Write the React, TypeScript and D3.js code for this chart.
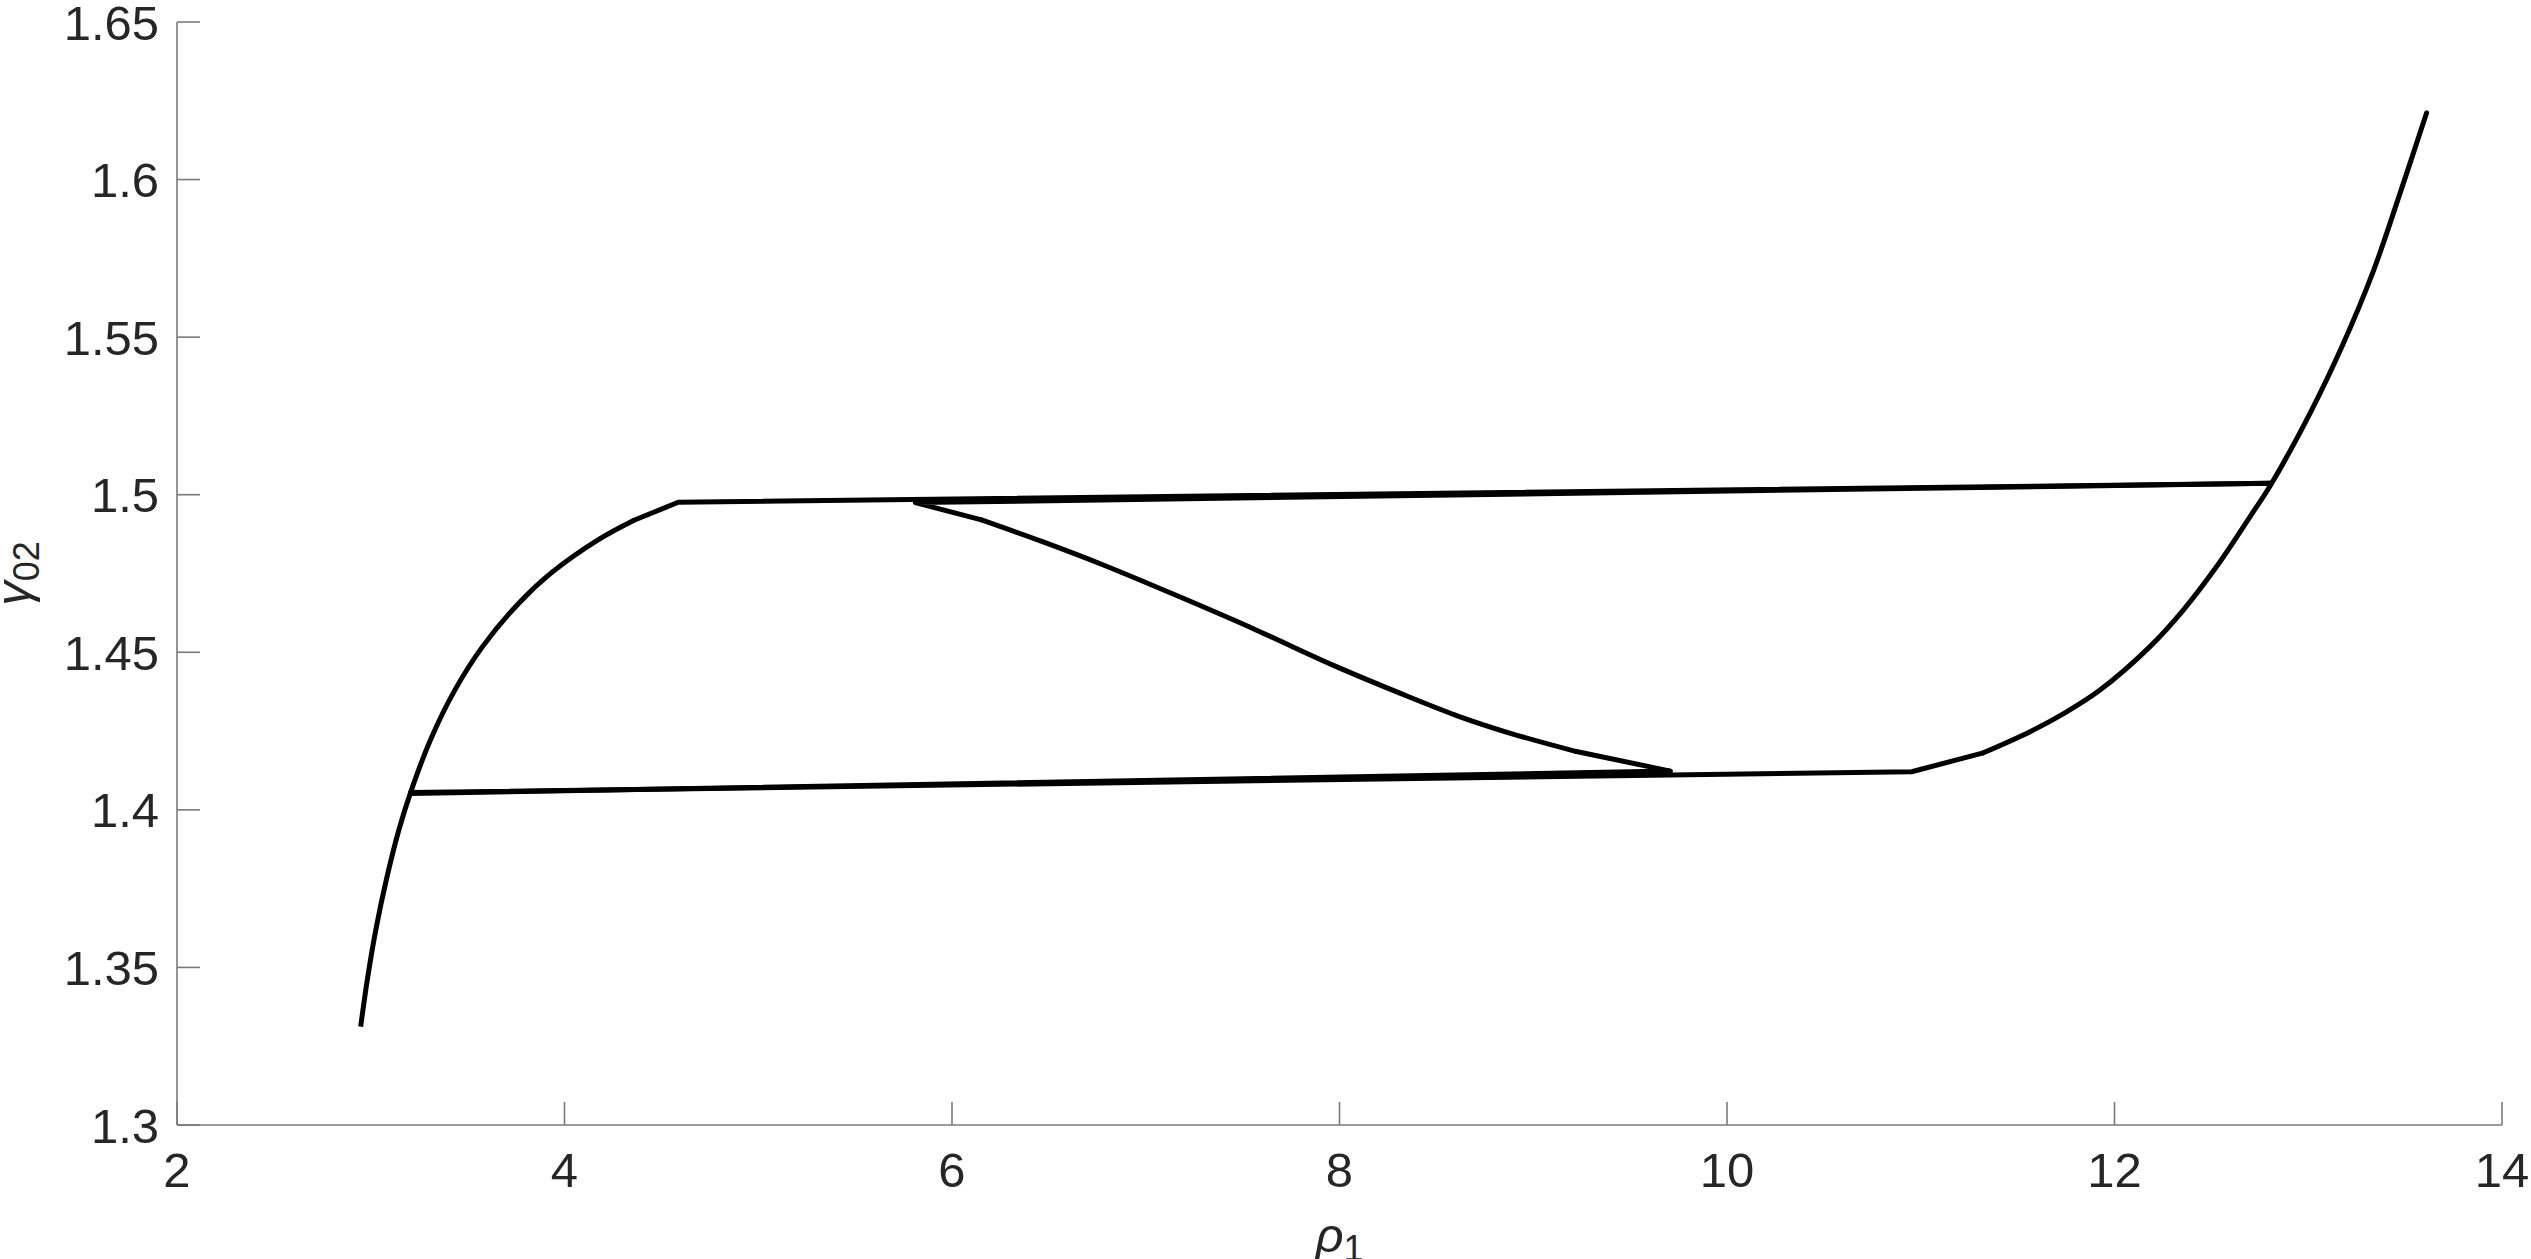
import React from "react";
import * as d3 from "d3";

const xTicks = [2, 4, 6, 8, 10, 12, 14];
const yTicks = [1.3, 1.35, 1.4, 1.45, 1.5, 1.55, 1.6, 1.65];
const yTickLabels = ["1.3", "1.35", "1.4", "1.45", "1.5", "1.55", "1.6", "1.65"];

// left branch (smooth part)
const leftRho = [2.948, 2.982, 3.026, 3.08, 3.145, 3.205, 3.308, 3.434, 3.577, 3.763, 3.93, 4.171, 4.359];
const leftGamma = [1.3312, 1.346, 1.3619, 1.3777, 1.3936, 1.4054, 1.4222, 1.438, 1.4518, 1.4655, 1.4751, 1.4856, 1.4919];

// upper plateau (straight)
const upperRho = [4.359, 4.587, 12.806];
const upperGamma = [1.4919, 1.4976, 1.5036];

// return line along the top to the start of the middle branch
const topReturnRho = [12.806, 5.811, 6.152];
const topReturnGamma = [1.5036, 1.4975, 1.492];

// unstable middle branch (smooth)
const middleRho = [6.152, 6.467, 6.781, 7.175, 7.569, 7.963, 8.357, 8.619, 8.882, 9.223];
const middleGamma = [1.492, 1.4851, 1.4777, 1.4676, 1.4571, 1.446, 1.4359, 1.4296, 1.4243, 1.4185];

// end of middle branch and return along the bottom
const bottomReturnRho = [9.223, 9.708, 3.205];
const bottomReturnGamma = [1.4185, 1.4123, 1.4052];

// lower plateau (straight)
const lowerRho = [3.205, 10.953, 11.323];
const lowerGamma = [1.4055, 1.4121, 1.4181];

// right branch (smooth)
const rightRho = [11.323, 11.564, 11.753, 11.925, 12.183, 12.355, 12.527, 12.699, 12.806, 13.009, 13.174, 13.332, 13.474, 13.611];
const rightGamma = [1.4181, 1.4248, 1.4311, 1.438, 1.4518, 1.4634, 1.4772, 1.493, 1.5031, 1.5258, 1.547, 1.5703, 1.5957, 1.6212];

const W = 2531;
const H = 1259;
const left = 177;
const right = 2502;
const top = 22;
const bottom = 1125;

export default function App() {
  const x = d3.scaleLinear().domain([2, 14]).range([left, right]);
  const y = d3.scaleLinear().domain([1.3, 1.65]).range([bottom, top]);
  const straight = d3
    .line<[number, number]>()
    .x((d) => x(d[0]))
    .y((d) => y(d[1]))
    .curve(d3.curveLinear);
  const smooth = d3
    .line<[number, number]>()
    .x((d) => x(d[0]))
    .y((d) => y(d[1]))
    .curve(d3.curveCatmullRom.alpha(0.5));

  const pieces: { pts: [number, number][]; smooth: boolean }[] = [
    { pts: d3.zip(leftRho, leftGamma) as [number, number][], smooth: true },
    { pts: d3.zip(upperRho, upperGamma) as [number, number][], smooth: false },
    { pts: d3.zip(topReturnRho, topReturnGamma) as [number, number][], smooth: false },
    { pts: d3.zip(middleRho, middleGamma) as [number, number][], smooth: true },
    { pts: d3.zip(bottomReturnRho, bottomReturnGamma) as [number, number][], smooth: false },
    { pts: d3.zip(lowerRho, lowerGamma) as [number, number][], smooth: false },
    { pts: d3.zip(rightRho, rightGamma) as [number, number][], smooth: true },
  ];

  const axisColor = "#7a7a7a";
  const textColor = "#262626";
  const font = "'Liberation Sans', Arial, Helvetica, sans-serif";
  const tickLen = 23;

  return (
    <svg
      width={W}
      height={H}
      style={{ position: "absolute", left: 0, top: 0, background: "#fff" }}
      fontFamily={font}
    >
      <rect x={0} y={0} width={W} height={H} fill="#fff" />
      <line x1={left} x2={left} y1={top} y2={bottom} stroke={axisColor} strokeWidth={1.6} />
      <line x1={left} x2={right} y1={bottom} y2={bottom} stroke={axisColor} strokeWidth={1.6} />
      {yTicks.map((t, i) => (
        <g key={"y" + i}>
          <line x1={left} x2={left + tickLen} y1={y(t)} y2={y(t)} stroke={axisColor} strokeWidth={1.6} />
          <text x={159} y={y(t)} dy="0.36em" textAnchor="end" fontSize={49} fill={textColor}>
            {yTickLabels[i]}
          </text>
        </g>
      ))}
      {xTicks.map((t, i) => (
        <g key={"x" + i}>
          <line x1={x(t)} x2={x(t)} y1={bottom} y2={bottom - tickLen} stroke={axisColor} strokeWidth={1.6} />
          <text x={x(t)} y={1187} textAnchor="middle" fontSize={49} fill={textColor}>
            {String(t)}
          </text>
        </g>
      ))}
      {pieces.map((p, i) => (
        <path
          key={"s" + i}
          d={(p.smooth ? smooth(p.pts) : straight(p.pts)) || ""}
          fill="none"
          stroke="#000"
          strokeWidth={5}
          strokeLinejoin="round"
          strokeLinecap={i === 0 ? "butt" : "round"}
        />
      ))}
      <text x={(left + right) / 2} y={1252} textAnchor="middle" fontSize={49} fill={textColor}>
        <tspan fontStyle="italic">ρ</tspan>
        <tspan fontSize={36} dy={9}>1</tspan>
      </text>
      <text
        transform={`translate(30, ${(top + bottom) / 2}) rotate(-90)`}
        textAnchor="middle"
        fontSize={49}
        fill={textColor}
      >
        <tspan fontStyle="italic">γ</tspan>
        <tspan fontSize={36} dy={9}>02</tspan>
      </text>
    </svg>
  );
}
